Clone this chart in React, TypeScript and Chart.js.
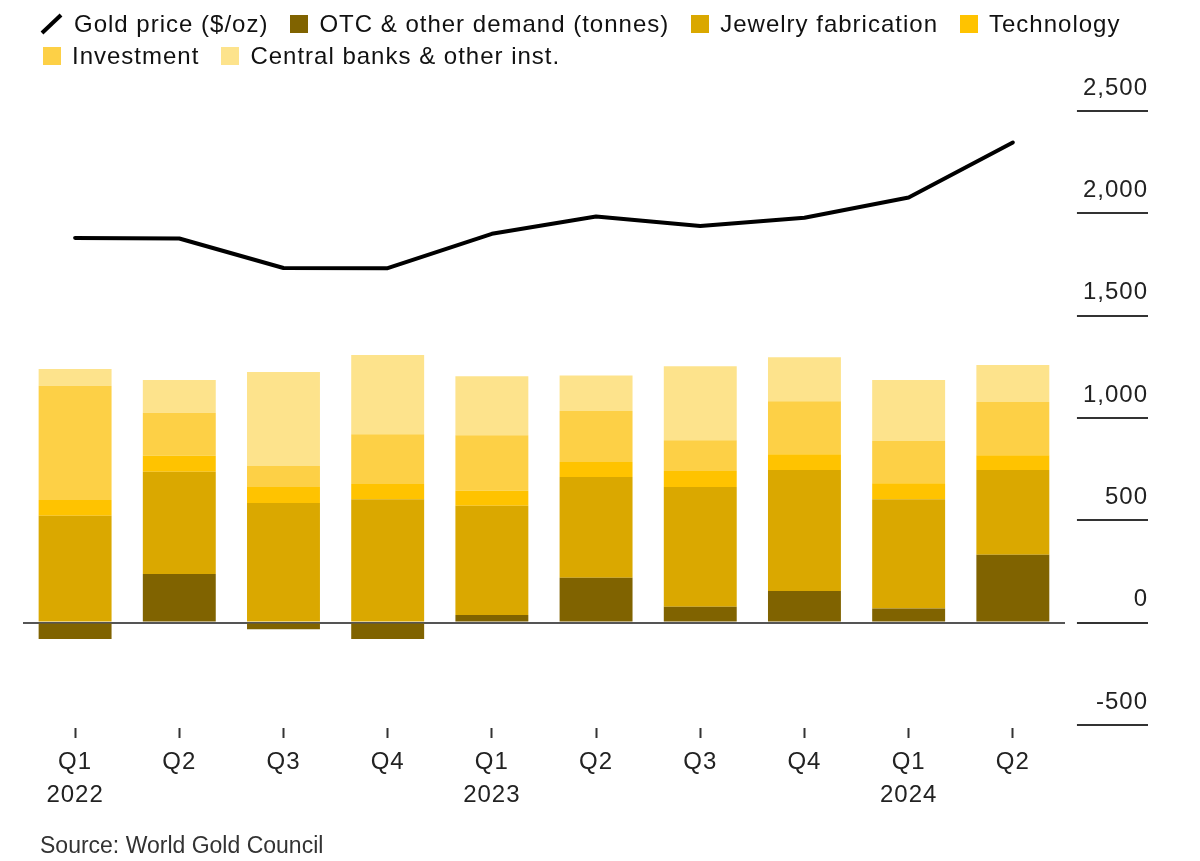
import React, { useEffect, useRef } from 'react';
import { Chart, registerables } from 'chart.js';

Chart.register(...registerables);

const QUARTERS = ['Q1', 'Q2', 'Q3', 'Q4', 'Q1', 'Q2', 'Q3', 'Q4', 'Q1', 'Q2'];
const YEARS = ['2022', '', '', '', '2023', '', '', '', '2024', ''];
const GOLD_PRICE = [1880, 1877, 1733, 1732, 1900, 1984, 1938, 1978, 2077, 2346];
const OTC = [-80, 237, -32, -80, 37, 219, 77, 155, 69, 331];
const JEWELRY = [522, 500, 584, 603, 534, 493, 586, 591, 534, 415];
const TECHNOLOGY = [77, 78, 79, 74, 73, 73, 78, 77, 78, 72];
const INVESTMENT = [559, 210, 102, 244, 272, 249, 150, 259, 207, 260];
const CENTRAL_BANKS = [81, 160, 460, 387, 288, 174, 362, 215, 297, 181];
const Y_TICKS = [-500, 0, 500, 1000, 1500, 2000, 2500];

const COLORS = {
  otc: '#806300',
  jewelry: '#daa800',
  technology: '#ffc300',
  investment: '#fdd046',
  central: '#fde38c',
};

const FAMILY = "'Liberation Sans', Arial, Helvetica, sans-serif";

const spacingPlugin = {
  id: 'spacing',
  beforeUpdate(chart: any) {
    try { chart.ctx.letterSpacing = '1px'; } catch (e) {}
  },
  beforeDraw(chart: any) {
    try { chart.ctx.letterSpacing = '1px'; } catch (e) {}
  },
  afterDraw(chart: any) {
    const y = chart.scales.y;
    const ctx = chart.ctx;
    const x1 = chart.chartArea.right + 12;
    const x2 = y.right;
    ctx.save();
    ctx.strokeStyle = '#333333';
    ctx.lineWidth = 2;
    Y_TICKS.forEach((v) => {
      const py = Math.round(y.getPixelForValue(v));
      ctx.beginPath();
      ctx.moveTo(x1, py);
      ctx.lineTo(x2, py);
      ctx.stroke();
    });
    ctx.restore();
  },
};

const legendRow: React.CSSProperties = {
  display: 'flex',
  alignItems: 'center',
  height: 32,
  whiteSpace: 'nowrap',
};

function Square({ color }: { color: string }) {
  return <span style={{ display: 'inline-block', width: 18, height: 18, background: color, marginRight: 11 }} />;
}

export default function App() {
  const canvasRef = useRef<HTMLCanvasElement | null>(null);

  useEffect(() => {
    if (!canvasRef.current) return;
    const labels = QUARTERS.map((q, i) => (YEARS[i] ? [q, YEARS[i]] : q));
    const chart = new Chart(canvasRef.current, {
      type: 'bar',
      data: {
        labels,
        datasets: [
          {
            type: 'line',
            label: 'Gold price ($/oz)',
            data: GOLD_PRICE,
            borderColor: '#000000',
            backgroundColor: '#000000',
            borderWidth: 4,
            pointRadius: 0,
            tension: 0,
            borderJoinStyle: 'round',
            borderCapStyle: 'round',
            stack: 'price',
          } as any,
          { label: 'OTC & other demand (tonnes)', data: OTC, backgroundColor: COLORS.otc, stack: 'demand' },
          { label: 'Jewelry fabrication', data: JEWELRY, backgroundColor: COLORS.jewelry, stack: 'demand' },
          { label: 'Technology', data: TECHNOLOGY, backgroundColor: COLORS.technology, stack: 'demand' },
          { label: 'Investment', data: INVESTMENT, backgroundColor: COLORS.investment, stack: 'demand' },
          { label: 'Central banks & other inst.', data: CENTRAL_BANKS, backgroundColor: COLORS.central, stack: 'demand' },
        ],
      },
      options: {
        responsive: false,
        animation: false,
        layout: { padding: { top: 103, left: 15, right: 44, bottom: 33 } },
        datasets: { bar: { barPercentage: 0.7, categoryPercentage: 1.0 } },
        plugins: { legend: { display: false }, tooltip: { enabled: false } },
        scales: {
          x: {
            stacked: true,
            offset: true,
            border: { display: false },
            grid: {
              display: true,
              drawOnChartArea: false,
              drawTicks: true,
              tickLength: 10,
              tickColor: '#333333',
              tickWidth: 2,
              offset: false,
            },
            ticks: {
              color: '#222222',
              font: { family: FAMILY, size: 24, lineHeight: 33 / 24 },
              padding: 8,
              maxRotation: 0,
              autoSkip: false,
            },
          },
          y: {
            stacked: true,
            position: 'right',
            min: -515,
            max: 2500,
            border: { display: false },
            afterBuildTicks: (scale: any) => {
              scale.ticks = Y_TICKS.map((v) => ({ value: v }));
            },
            grid: {
              drawTicks: false,
              lineWidth: 2,
              color: (c: any) => (c.tick && c.tick.value === 0 ? '#555555' : 'rgba(0,0,0,0)'),
            },
            ticks: {
              crossAlign: 'far',
              padding: 9,
              labelOffset: -23,
              color: '#222222',
              font: { family: FAMILY, size: 24 },
              callback: (v: any) => Number(v).toLocaleString('en-US'),
            },
          },
        },
      } as any,
      plugins: [spacingPlugin],
    });
    return () => chart.destroy();
  }, []);

  return (
    <div style={{ position: 'relative', width: 1184, height: 845, fontFamily: FAMILY }}>
      <canvas ref={canvasRef} width={1184} height={845} style={{ position: 'absolute', left: 0, top: 0, display: 'block' }} />
      <div style={{ position: 'absolute', left: 0, top: 0, fontSize: 24, letterSpacing: '1px', color: '#111111', lineHeight: '32px' }}>
        <div style={{ ...legendRow, paddingLeft: 32 }}>
          <svg width={23} height={22} style={{ marginRight: 11 }}>
            <line x1={2} y1={20} x2={21} y2={2} stroke="#000" strokeWidth={4} />
          </svg>
          <span style={{ marginRight: 22 }}>Gold price ($/oz)</span>
          <Square color={COLORS.otc} />
          <span style={{ marginRight: 22 }}>OTC &amp; other demand (tonnes)</span>
          <Square color={COLORS.jewelry} />
          <span style={{ marginRight: 22 }}>Jewelry fabrication</span>
          <Square color={COLORS.technology} />
          <span>Technology</span>
        </div>
        <div style={{ ...legendRow, paddingLeft: 35 }}>
          <Square color={COLORS.investment} />
          <span style={{ marginRight: 22 }}>Investment</span>
          <Square color={COLORS.central} />
          <span>Central banks &amp; other inst.</span>
        </div>
      </div>
      <div style={{ position: 'absolute', left: 32, top: 825, fontSize: 23, lineHeight: '24px', color: '#333333' }}>
        Source: World Gold Council
      </div>
    </div>
  );
}
